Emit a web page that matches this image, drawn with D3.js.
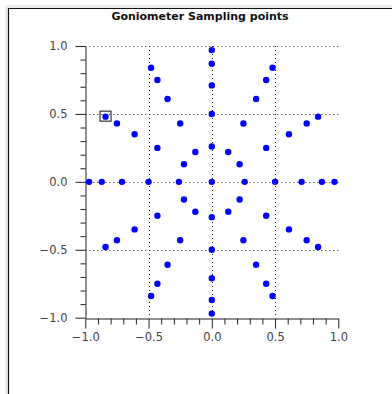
<!DOCTYPE html>
<html><head><meta charset="utf-8">
<script src="https://cdn.jsdelivr.net/npm/d3@7"></script>
<style>html,body{margin:0;padding:0;background:#fff;}svg{display:block;}</style>
</head><body>
<svg id="c" width="392" height="394"></svg>
<script>
const title = "Goniometer Sampling points";
const xs = [0,
 0.26, 0.22, 0.13, 0, -0.13, -0.22, -0.26, -0.22, -0.13, 0, 0.13, 0.22,
 0.5, 0.43, 0.25, 0, -0.25, -0.43, -0.5, -0.43, -0.25, 0, 0.25, 0.43,
 0.71, 0.61, 0.35, 0, -0.35, -0.61, -0.71, -0.61, -0.35, 0, 0.35, 0.61,
 0.87, 0.75, 0.43, 0, -0.43, -0.75, -0.87, -0.75, -0.43, 0, 0.43, 0.75,
 0.97, 0.84, 0.48, 0, -0.48, -0.84, -0.97, -0.84, -0.48, 0, 0.48, 0.84];
const ys = [0,
 0, 0.13, 0.22, 0.26, 0.22, 0.13, 0, -0.13, -0.22, -0.26, -0.22, -0.13,
 0, 0.25, 0.43, 0.5, 0.43, 0.25, 0, -0.25, -0.43, -0.5, -0.43, -0.25,
 0, 0.35, 0.61, 0.71, 0.61, 0.35, 0, -0.35, -0.61, -0.71, -0.61, -0.35,
 0, 0.43, 0.75, 0.87, 0.75, 0.43, 0, -0.43, -0.75, -0.87, -0.75, -0.43,
 0, 0.48, 0.84, 0.97, 0.84, 0.48, 0, -0.48, -0.84, -0.97, -0.84, -0.48];
const selected = {x: -0.84, y: 0.48};
const majorTicks = [-1.0, -0.5, 0.0, 0.5, 1.0];
const minorTicks = [-0.9,-0.8,-0.7,-0.6,-0.4,-0.3,-0.2,-0.1,0.1,0.2,0.3,0.4,0.6,0.7,0.8,0.9];
const xGrid = [-0.5, 0, 0.5];
const yGrid = [-0.5, 0, 0.5, 1.0];

const svg = d3.select("#c");
// outer panel
svg.append("rect").attr("x",5).attr("y",5).attr("width",387).attr("height",389).attr("fill","#ececec");
svg.append("rect").attr("x",8).attr("y",8).attr("width",384).attr("height",386).attr("fill","#fff");
svg.append("line").attr("x1",8.5).attr("x2",8.5).attr("y1",8).attr("y2",394).attr("stroke","#111").attr("stroke-width",1.2);
svg.append("line").attr("x1",8).attr("x2",392).attr("y1",8.5).attr("y2",8.5).attr("stroke","#111").attr("stroke-width",1.2);

const x = d3.scaleLinear().domain([-1,1]).range([85.3,338.3]);
const y = d3.scaleLinear().domain([-1,1]).range([317.7,46]);

const font = "'DejaVu Sans', sans-serif";
svg.append("text").attr("x",200).attr("y",20).attr("text-anchor","middle")
  .attr("font-family",font).attr("font-weight","bold").attr("font-size",11).attr("fill","#111").text(title);

// grid
const g = svg.append("g");
g.selectAll(".gx").data(xGrid).join("line")
  .attr("x1",d=>Math.round(x(d))+0.5).attr("x2",d=>Math.round(x(d))+0.5)
  .attr("y1",y(1)).attr("y2",y(-1))
  .attr("stroke","#222").attr("stroke-dasharray","1,3");
g.selectAll(".gy").data(yGrid).join("line")
  .attr("y1",d=>Math.round(y(d))+0.5).attr("y2",d=>Math.round(y(d))+0.5)
  .attr("x1",x(-1)).attr("x2",x(1))
  .attr("stroke","#222").attr("stroke-dasharray","1,3");

const fmt = d => d3.format(".1f")(d).replace("-","\u2212");
// x axis
svg.append("g").attr("transform",`translate(0,${Math.round(y(-1))+0.5})`)
  .call(d3.axisBottom(x).tickValues(majorTicks).tickFormat(fmt).tickSizeInner(10).tickSizeOuter(0).tickPadding(4));
svg.append("g").attr("transform",`translate(0,${Math.round(y(-1))+0.5})`)
  .call(d3.axisBottom(x).tickValues(minorTicks).tickFormat("").tickSizeInner(6).tickSizeOuter(0))
  .select(".domain").remove();
// y axis
svg.append("g").attr("transform",`translate(${Math.round(x(-1))+0.5},0)`)
  .call(d3.axisLeft(y).tickValues(majorTicks).tickFormat(fmt).tickSizeInner(10).tickSizeOuter(0).tickPadding(8));
svg.append("g").attr("transform",`translate(${Math.round(x(-1))+0.5},0)`)
  .call(d3.axisLeft(y).tickValues(minorTicks).tickFormat("").tickSizeInner(5).tickSizeOuter(0))
  .select(".domain").remove();
svg.selectAll(".tick line, .domain").attr("stroke","#222");
svg.selectAll(".tick text").attr("font-family",font).attr("font-size",11.5).attr("fill","#444");

// points
const pts = xs.map((v,i)=>({x:v,y:ys[i]}));
svg.append("g").selectAll("circle").data(pts).join("circle")
  .attr("cx",d=>x(d.x)).attr("cy",d=>y(d.y)).attr("r",3.2).attr("fill","#0000ff");

// selection box
svg.append("rect").attr("x",x(selected.x)-5.5).attr("y",y(selected.y)-5.5)
  .attr("width",11).attr("height",10).attr("fill","none").attr("stroke","#111").attr("stroke-width",1);
</script>
</body></html>
